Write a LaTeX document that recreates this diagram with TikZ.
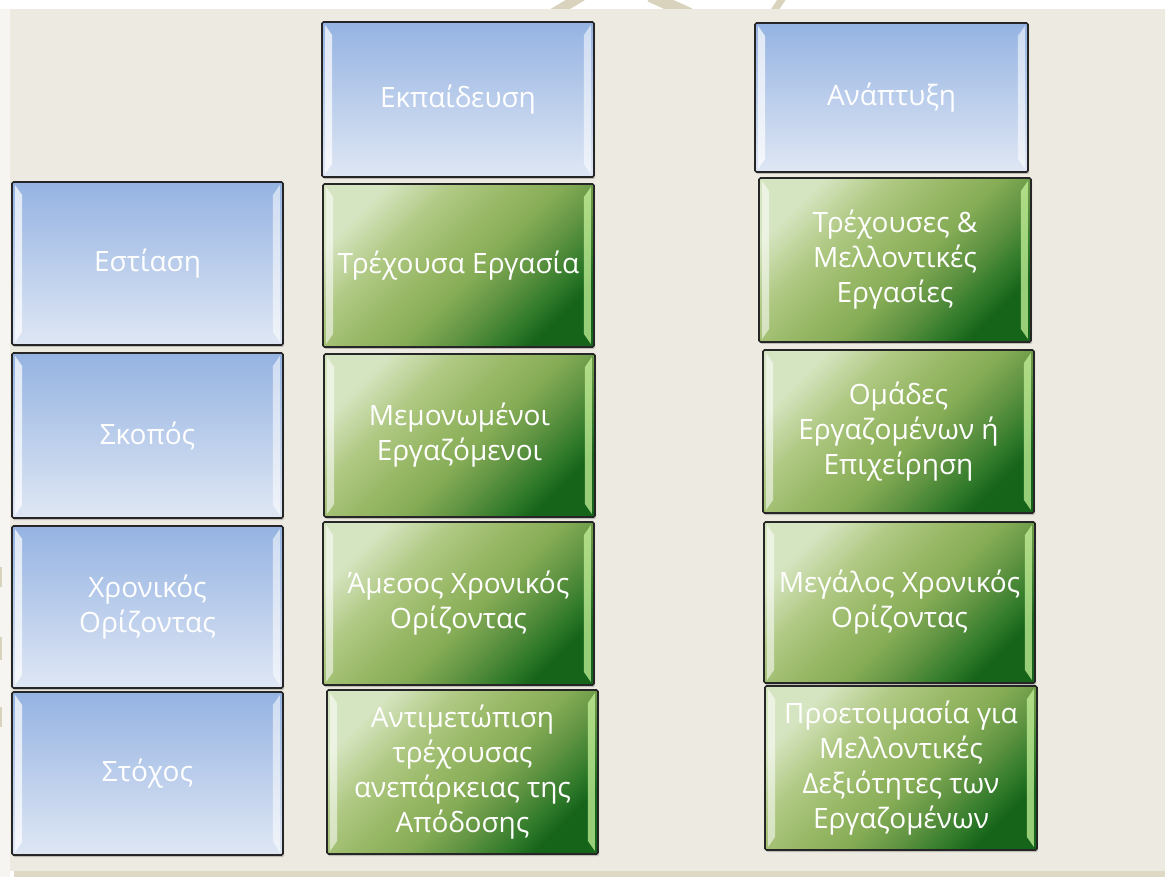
\documentclass[tikz,border=0pt]{standalone}
\usepackage{fontspec}
\setmainfont{Open Sans}
\usepackage{xcolor}
\usetikzlibrary{shadows}

\definecolor{pagebg}{HTML}{EDEBE1}
\definecolor{bandbg}{HTML}{DDD9C5}
\definecolor{stripbg}{HTML}{F6F5F1}
\definecolor{markbg}{HTML}{D9D3BD}
\definecolor{bluetop}{HTML}{95B3E2}
\definecolor{bluebot}{HTML}{DFE7F4}
\definecolor{greenhl}{HTML}{C6F29A}

\pgfdeclareverticalshading{greenshade}{100bp}{%
  color(0bp)=(rgb,255:red,22;green,100;blue,26);
  color(25bp)=(rgb,255:red,22;green,100;blue,26);
  color(30bp)=(rgb,255:red,48;green,122;blue,42);
  color(38bp)=(rgb,255:red,96;green,148;blue,66);
  color(46bp)=(rgb,255:red,134;green,172;blue,86);
  color(54bp)=(rgb,255:red,152;green,184;blue,102);
  color(64bp)=(rgb,255:red,176;green,201;blue,132);
  color(75bp)=(rgb,255:red,214;green,229;blue,193);
  color(100bp)=(rgb,255:red,214;green,229;blue,193)}

\tikzset{
  box/.style={draw=black!85, line width=1.6pt, rounded corners=1.5pt,
    text=white, align=center, inner sep=2pt,
    font=\fontsize{28}{35}\selectfont,
    minimum width=271pt, minimum height=163pt,
    general shadow={fill=black, opacity=.2, shadow xshift=1pt, shadow yshift=-2pt}},
  bluebox/.style={box, top color=bluetop, bottom color=bluebot},
  greenbox/.style={box, shade, shading=greenshade, shading angle=45},
}

\begin{document}
\begin{tikzpicture}[x=1pt, y=-1pt]
    \useasboundingbox (0,0) rectangle (1165,877);
    \fill[white] (0,0) rectangle (1165,877);
    \fill[stripbg] (0,9) rectangle (10,877);
    \fill[pagebg] (10,9) rectangle (1165,871);
    \fill[bandbg] (14,871) rectangle (1165,877);
    \begin{scope}
      \clip (0,0) rectangle (1165,9);
      \draw[markbg, line width=10pt] (552,14) -- (582,-4);
      \draw[markbg, line width=12pt] (650,-4) -- (690,14);
      \draw[markbg, line width=7pt] (772,14) -- (784,-4);
    \end{scope}
    \fill[markbg] (0,567) rectangle (2,587);
    \fill[markbg] (0,637) rectangle (2,660);
    \fill[markbg] (0,707) rectangle (2,727);

    \node[bluebox] (estiasi) at (147.5,263.5) {Εστίαση};
    \node[bluebox, minimum height=165pt] (skopos) at (147.5,435.5) {Σκοπός};
    \node[bluebox, minimum height=162pt] (xronikos) at (147.5,607) {Χρονικός\\Ορίζοντας};
    \node[bluebox] (stoxos) at (147.5,773.5) {Στόχος};

    \node[bluebox, minimum width=272pt, minimum height=155pt] (ekpaideusi) at (458,99.5) {Εκπαίδευση};
    \node[greenbox] (trexousa) at (458.5,265.5) {Τρέχουσα Εργασία};
    \node[greenbox] (memonomenoi) at (459.5,435.5) {Μεμονωμένοι\\Εργαζόμενοι};
    \node[greenbox] (amesos) at (458.5,603.5) {Άμεσος Χρονικός\\Ορίζοντας};
    \node[greenbox, minimum height=164pt] (antimetopisi) at (462.5,772) {Αντιμετώπιση\\τρέχουσας\\ανεπάρκειας της\\Απόδοσης};

    \node[bluebox, minimum width=273pt, minimum height=149pt] (anaptyxi) at (891.5,97.5) {Ανάπτυξη};
    \node[greenbox, minimum width=272pt, minimum height=164pt] (trexouses) at (895,260) {Τρέχουσες \&\\Μελλοντικές\\Εργασίες};
    \node[greenbox] (omades) at (898.5,431.5) {Ομάδες\\Εργαζομένων ή\\Επιχείρηση};
    \node[greenbox, minimum height=161pt] (megalos) at (899.5,602.5) {Μεγάλος Χρονικός\\Ορίζοντας};
    \node[greenbox, minimum width=272pt, minimum height=164pt] (proetoimasia) at (901,768) {Προετοιμασία για\\Μελλοντικές\\Δεξιότητες των\\Εργαζομένων};

    \foreach \n in {estiasi,skopos,xronikos,stoxos,ekpaideusi,anaptyxi} {
      \fill[white, opacity=.7] ([shift={(4,4)}]\n.north west) -- ([shift={(11,14)}]\n.north west)
        -- ([shift={(11,-14)}]\n.south west) -- ([shift={(4,-4)}]\n.south west) -- cycle;
      \fill[white, opacity=.55] ([shift={(-4,4)}]\n.north east) -- ([shift={(-11,14)}]\n.north east)
        -- ([shift={(-11,-14)}]\n.south east) -- ([shift={(-4,-4)}]\n.south east) -- cycle;
    }
    \foreach \n in {trexousa,memonomenoi,amesos,antimetopisi,trexouses,omades,megalos,proetoimasia} {
      \fill[white, opacity=.55] ([shift={(4,4)}]\n.north west) -- ([shift={(11,14)}]\n.north west)
        -- ([shift={(11,-14)}]\n.south west) -- ([shift={(4,-4)}]\n.south west) -- cycle;
      \fill[greenhl, opacity=.75] ([shift={(-4,4)}]\n.north east) -- ([shift={(-11,14)}]\n.north east)
        -- ([shift={(-11,-14)}]\n.south east) -- ([shift={(-4,-4)}]\n.south east) -- cycle;
    }
\end{tikzpicture}
\end{document}
